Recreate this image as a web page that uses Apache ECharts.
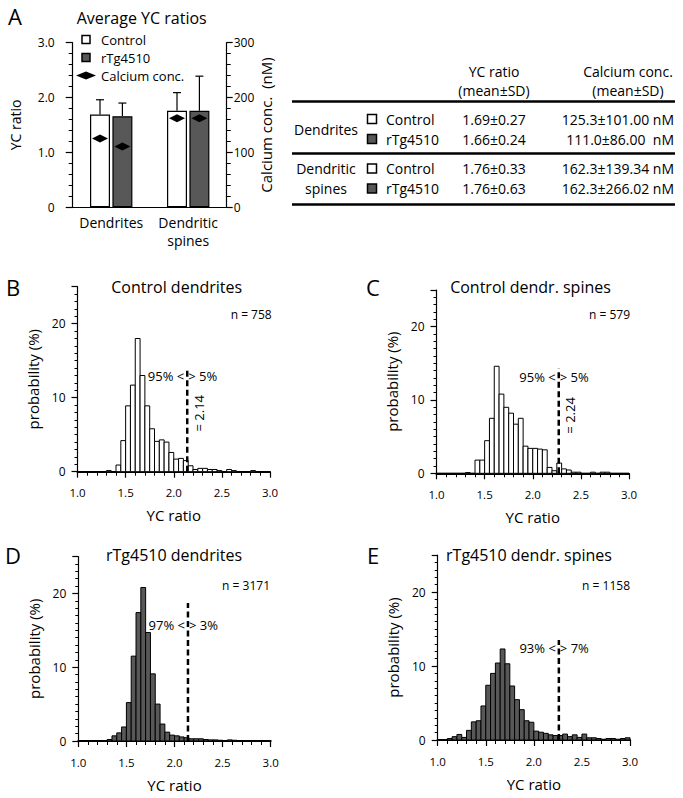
<!DOCTYPE html>
<html>
<head>
<meta charset="utf-8">
<title>Average YC ratios</title>
<script src="https://cdn.jsdelivr.net/npm/echarts@6/dist/echarts.min.js"></script>
<style>
  html, body { margin: 0; padding: 0; background: #fff; }
  #chart { width: 683px; height: 798px; }
</style>
</head>
<body>
<div id="chart"></div>
<script>
// ---- panel A: averages ----
const groups = ['Dendrites', 'Dendritic\nspines'];
const ycControl = [1.69, 1.76];
const ycControlSd = [0.27, 0.33];
const ycTg = [1.66, 1.76];
const ycTgSd = [0.24, 0.63];
const caControl = [125.3, 162.3];
const caTg = [111.0, 162.3];

// ---- table ----
const tableHead = [['YC ratio', '(mean±SD)'], ['Calcium conc.', '(mean±SD)']];
const tableGroups = [['Dendrites'], ['Dendritic', 'spines']];
const tableGenotype = ['Control', 'rTg4510'];
const tableYc = ['1.69±0.27', '1.66±0.24', '1.76±0.33', '1.76±0.63'];
const tableCa = ['125.3±101.00 nM', '111.0±86.00  nM', '162.3±139.34 nM', '162.3±266.02 nM'];

// ---- histograms (probability %, bins of 0.05 starting at 1.00) ----
const BIN = 0.05;
const ctrlDend = [0, 0, 0, 0, 0, 0, 0.15, 0,
  0.9, 4.2, 8.9, 11.7, 18.0, 13.0, 8.9, 5.8, 4.1, 4.3, 4.0, 2.6, 1.7, 1.8, 1.5, 0.8,
  0.3, 0.45, 0.45, 0.3, 0.3, 0.15, 0, 0.3, 0.15, 0, 0, 0, 0.15, 0, 0, 0];
const ctrlSpine = [0, 0, 0, 0, 0, 0, 0.1, 0,
  1.8, 1.8, 4.45, 7.5, 14.6, 10.8, 9.0, 8.2, 6.7, 7.5, 3.7, 3.4, 3.4, 3.3, 3.2, 0.8,
  0.35, 1.4, 0.6, 0.45, 0.15, 0.15, 0, 0, 0.15, 0, 0.15, 0.15, 0, 0, 0, 0];
const tgDend = [0.05, 0.05, 0.05, 0.05, 0.05, 0.05,
  0.2, 0.7, 1.1, 1.9, 5.2, 11.5, 17.4, 20.8, 14.7, 9.1, 5.0, 2.3, 1.2, 0.8, 0.7, 0.55,
  0.45, 0.3, 0.3, 0.3, 0.2, 0.15, 0.15, 0.1, 0.05, 0.15, 0.1,
  0.05, 0.05, 0.05, 0.05, 0.05, 0.05, 0.05];
const tgSpine = [0.05, 0.05, 0.2, 0.45, 0.75, 0.35, 1.3, 2.45, 2.6, 4.6,
  7.4, 9.0, 10.4, 12.3, 10.3, 7.3, 5.45, 4.1, 2.6, 2.4,
  1.2, 1.05, 0.9, 0.7, 0.6, 0.6, 0.8, 0.45, 0.7, 0.35,
  0.8, 0.3, 0.3, 0.2, 0.1, 0.2, 0.2, 0.1, 0.2, 0.3];
const histTitles = ['Control dendrites', 'Control dendr. spines', 'rTg4510 dendrites', 'rTg4510 dendr. spines'];
const nCount = ['n = 758', 'n = 579', 'n = 3171', 'n = 1158'];
const cutX = [2.14, 2.27, 2.14, 2.26];
const cutTop = [14, 14.3, 18.7, 13.5];
const pctBelow = ['95%', '95%', '97%', '93%'];
const pctAbove = ['5%', '5%', '3%', '7%'];
const cutNote = ['= 2.14', '= 2.24', '', ''];
const xTicks = [1.0, 1.5, 2.0, 2.5, 3.0];

const FONT = '"Open Sans", "Noto Sans", sans-serif';
const CTRL_FILL = '#ffffff';
const TG_FILL = '#585858';
const BAR_SHIFT = 11.2;

const hists = [ctrlDend, ctrlSpine, tgDend, tgSpine];
const histFill = [CTRL_FILL, CTRL_FILL, TG_FILL, TG_FILL];
const binStart = ctrlDend.map((v, i) => +(1 + i * BIN).toFixed(2));

// layout (pixels)
const gridBoxes = [
  { left: 72.7, top: 42.7, width: 154, height: 164.6 },
  { left: 77.5, top: 286.7, width: 192.5, height: 185 },
  { left: 436.5, top: 290, width: 192.5, height: 183.3 },
  { left: 78.3, top: 556.5, width: 192.4, height: 184.5 },
  { left: 437.7, top: 555, width: 192.3, height: 185 }
];
const titlePos = [[176.7, 286.7], [530.5, 287], [174, 555], [529, 555]];
const letterPos = [[15, 16, 'A'], [13, 287, 'B'], [373, 287, 'C'], [13, 555, 'D'], [373, 555, 'E']];
const nPos = [[271.7, 314], [630, 314], [270, 585], [630, 585]];
const pctY = [12.9, 13.2, 15.7, 12.5];

function txt(x, y, s, size, align) {
  return {
    type: 'text', x: x, y: y, silent: true,
    style: {
      text: s, font: size + 'px ' + FONT, fill: '#000',
      textAlign: align || 'center', textVerticalAlign: 'middle',
      align: align || 'center', verticalAlign: 'middle'
    }
  };
}
function hline(x1, x2, y, w) {
  return { type: 'line', silent: true, shape: { x1: x1, y1: y, x2: x2, y2: y }, style: { stroke: '#000', lineWidth: w } };
}
function square(cx, cy, fill) {
  return { type: 'rect', silent: true, shape: { x: cx - 4.5, y: cy - 4.5, width: 9, height: 9 }, style: { fill: fill, stroke: '#000', lineWidth: 1.5 } };
}

// ---- graphic: titles, letters, table ----
const graphic = [];
letterPos.forEach(p => graphic.push(txt(p[0], p[1], p[2], 22)));
graphic.push(txt(141.7, 18, 'Average YC ratios', 16));
histTitles.forEach((t, k) => graphic.push(txt(titlePos[k][0], titlePos[k][1], t, 16)));
nCount.forEach((t, k) => graphic.push(txt(nPos[k][0], nPos[k][1], t, 12, 'right')));

graphic.push(txt(494, 71.5, tableHead[0][0], 14), txt(494, 90, tableHead[0][1], 14));
graphic.push(txt(628, 71.5, tableHead[1][0], 14), txt(628, 90, tableHead[1][1], 14));
graphic.push(hline(292, 675, 101.5, 2.5), hline(292, 675, 153.5, 2.5), hline(292, 675, 204.5, 2.5));
const rowY = [119, 139, 168.5, 188.5];
graphic.push(txt(326, 129, tableGroups[0][0], 14));
graphic.push(txt(326, 168.5, tableGroups[1][0], 14), txt(326, 188.5, tableGroups[1][1], 14));
rowY.forEach((y, r) => {
  graphic.push(square(372, y, r % 2 === 0 ? CTRL_FILL : TG_FILL));
  graphic.push(txt(386, y, tableGenotype[r % 2], 14, 'left'));
  graphic.push(txt(494, y, tableYc[r], 14));
  graphic.push(txt(674, y, tableCa[r], 14, 'right'));
});

// ---- axes ----
const blackLine = { color: '#000', width: 1.2 };
const xAxes = [{
  gridIndex: 0, type: 'category', data: groups,
  axisLine: { lineStyle: blackLine }, axisTick: { show: false },
  axisLabel: { color: '#000', fontSize: 14, fontFamily: FONT, margin: 6, lineHeight: 18, interval: 0, hideOverlap: false }
}];
const yAxes = [{
  gridIndex: 0, type: 'value', min: 0, max: 3, interval: 1,
  name: 'YC ratio', nameLocation: 'middle', nameGap: 50,
  nameTextStyle: { color: '#000', fontSize: 14, fontFamily: FONT },
  axisLine: { show: true, lineStyle: blackLine },
  axisTick: { show: true, length: 7, lineStyle: blackLine },
  minorTick: { show: true, splitNumber: 5, length: 4, lineStyle: { color: '#000', width: 1 } },
  splitLine: { show: false },
  axisLabel: { color: '#000', fontSize: 12, fontFamily: FONT, margin: 18, formatter: v => v === 0 ? '0' : v.toFixed(1) }
}, {
  gridIndex: 0, type: 'value', position: 'right', min: 0, max: 300, interval: 100,
  name: 'Calcium conc.  (nM)', nameLocation: 'middle', nameGap: 27,
  nameTextStyle: { color: '#000', fontSize: 15, fontFamily: FONT },
  axisLine: { show: true, lineStyle: blackLine },
  axisTick: { show: true, length: 6, lineStyle: blackLine },
  minorTick: { show: true, splitNumber: 5, length: 4, lineStyle: { color: '#000', width: 1 } },
  splitLine: { show: false },
  axisLabel: { color: '#000', fontSize: 12, fontFamily: FONT, margin: 7 }
}];

const series = [
  {
    type: 'bar', name: 'Control', xAxisIndex: 0, yAxisIndex: 0, data: ycControl,
    barWidth: 20, barGap: '12%',
    itemStyle: { color: CTRL_FILL, borderColor: '#000', borderWidth: 1.2 }
  },
  {
    type: 'bar', name: 'rTg4510', xAxisIndex: 0, yAxisIndex: 0, data: ycTg,
    barWidth: 20, barGap: '12%',
    itemStyle: { color: TG_FILL, borderColor: '#000', borderWidth: 1.2 }
  },
  {
    type: 'custom', xAxisIndex: 0, yAxisIndex: 0, silent: true, z: 3,
    data: [[0, ycControl[0], ycControlSd[0], -1], [1, ycControl[1], ycControlSd[1], -1],
           [0, ycTg[0], ycTgSd[0], 1], [1, ycTg[1], ycTgSd[1], 1]],
    encode: { x: 0, y: 1 },
    renderItem: function (params, api) {
      const i = api.value(0), m = api.value(1), sd = api.value(2), side = api.value(3);
      const b = api.coord([i, m]);
      const t = api.coord([i, m + sd]);
      const x = b[0] + side * BAR_SHIFT;
      return {
        type: 'group', children: [
          { type: 'line', shape: { x1: x, y1: b[1], x2: x, y2: t[1] }, style: { stroke: '#000', lineWidth: 1.2 } },
          { type: 'line', shape: { x1: x - 4, y1: t[1], x2: x + 4, y2: t[1] }, style: { stroke: '#000', lineWidth: 1.2 } }
        ]
      };
    }
  },
  {
    type: 'custom', name: 'Calcium conc.', xAxisIndex: 0, yAxisIndex: 1, z: 4,
    data: [[0, caControl[0], -1], [1, caControl[1], -1], [0, caTg[0], 1], [1, caTg[1], 1]],
    encode: { x: 0, y: 1 },
    itemStyle: { color: '#000' },
    renderItem: function (params, api) {
      const p = api.coord([api.value(0), api.value(1)]);
      const x = p[0] + api.value(2) * BAR_SHIFT, y = p[1];
      return {
        type: 'polygon',
        shape: { points: [[x - 8, y], [x, y - 4], [x + 8, y], [x, y + 4]] },
        style: { fill: '#000' }
      };
    }
  }
];

hists.forEach((vals, k) => {
  const xi = k + 1, yi = k + 2;
  xAxes.push({
    gridIndex: k + 1, type: 'value', min: 1, max: 3, interval: 0.5,
    name: 'YC ratio', nameLocation: 'middle', nameGap: 36,
    nameTextStyle: { color: '#000', fontSize: 15, fontFamily: FONT },
    axisLine: { show: true, onZero: false, lineStyle: { color: '#000', width: 2 } },
    axisTick: { show: true, length: 6, lineStyle: { color: '#000', width: 1.2 } },
    minorTick: { show: true, splitNumber: 5, length: 4, lineStyle: { color: '#000', width: 1 } },
    splitLine: { show: false },
    axisLabel: { color: '#000', fontSize: 11.5, fontFamily: FONT, margin: 15, formatter: v => xTicks.indexOf(v) >= 0 ? v.toFixed(1) : '' }
  });
  yAxes.push({
    gridIndex: k + 1, type: 'value', min: 0, max: 25, interval: 10,
    name: 'probability (%)', nameLocation: 'middle', nameGap: 37,
    nameTextStyle: { color: '#000', fontSize: 15, fontFamily: FONT },
    axisLine: { show: true, lineStyle: { color: '#000', width: 1.2 } },
    axisTick: { show: true, length: 6, lineStyle: { color: '#000', width: 1.2 } },
    minorTick: { show: true, splitNumber: 10, length: 3, lineStyle: { color: '#000', width: 1 } },
    splitLine: { show: false },
    axisLabel: { color: '#000', fontSize: 12, fontFamily: FONT, margin: 12, formatter: v => v % 10 === 0 ? String(v) : '' }
  });
  const fill = histFill[k];
  series.push({
    type: 'custom', xAxisIndex: xi, yAxisIndex: yi, silent: true,
    data: binStart.map((x, i) => [x, vals[i]]),
    encode: { x: 0, y: 1 },
    renderItem: function (params, api) {
      const x0 = api.value(0), v = api.value(1);
      const a = api.coord([x0, 0]);
      const b = api.coord([x0 + BIN, v]);
      return {
        type: 'rect',
        shape: { x: a[0], y: b[1], width: b[0] - a[0], height: a[1] - b[1] },
        style: { fill: fill, stroke: '#000', lineWidth: 1 }
      };
    }
  });
  series.push({
    type: 'line', xAxisIndex: xi, yAxisIndex: yi, silent: true, z: 5,
    data: [[cutX[k], 0], [cutX[k], cutTop[k]]], symbol: 'none',
    lineStyle: { color: '#000', width: 2.5, type: [6, 3.5] }
  });
  const notes = [
    { at: [cutX[k], pctY[k]], text: pctBelow[k] + ' <', align: 'right', dx: -3, rot: 0 },
    { at: [cutX[k], pctY[k]], text: '> ' + pctAbove[k], align: 'left', dx: 1, rot: 0 }
  ];
  if (cutNote[k]) notes.push({ at: [cutX[k] + 0.12, 7.9], text: cutNote[k], align: 'center', dx: 0, rot: Math.PI / 2 });
  series.push({
    type: 'custom', xAxisIndex: xi, yAxisIndex: yi, silent: true, z: 6,
    data: notes.map(n => n.at), encode: { x: 0, y: 1 },
    renderItem: function (params, api) {
      const n = notes[params.dataIndex];
      const p = api.coord(n.at);
      return {
        type: 'text', x: p[0] + n.dx, y: p[1], rotation: n.rot,
        style: {
          text: n.text, font: '13px ' + FONT, fill: '#000',
          textAlign: n.align, textVerticalAlign: 'middle', align: n.align, verticalAlign: 'middle'
        }
      };
    }
  });
});

const chart = echarts.init(document.getElementById('chart'), null, { renderer: 'svg' });
chart.setOption({
  animation: false,
  backgroundColor: '#fff',
  textStyle: { fontFamily: FONT },
  grid: gridBoxes.map(g => Object.assign({ containLabel: false, outerBoundsMode: 'none' }, g)),
  legend: {
    left: 76, top: 33, orient: 'vertical', padding: 0,
    itemWidth: 20, itemHeight: 8, itemGap: 5, selectedMode: false,
    textStyle: { color: '#000', fontSize: 13, fontFamily: FONT },
    data: [
      { name: 'Control', icon: 'path://M0,0H10V10H0Z', itemStyle: { color: CTRL_FILL, borderColor: '#000', borderWidth: 1.5 } },
      { name: 'rTg4510', icon: 'path://M0,0H10V10H0Z', itemStyle: { color: TG_FILL, borderColor: '#000', borderWidth: 1.5 } },
      { name: 'Calcium conc.', icon: 'diamond', itemStyle: { color: '#000' } }
    ]
  },
  xAxis: xAxes,
  yAxis: yAxes,
  series: series,
  graphic: graphic
});
</script>
</body>
</html>
